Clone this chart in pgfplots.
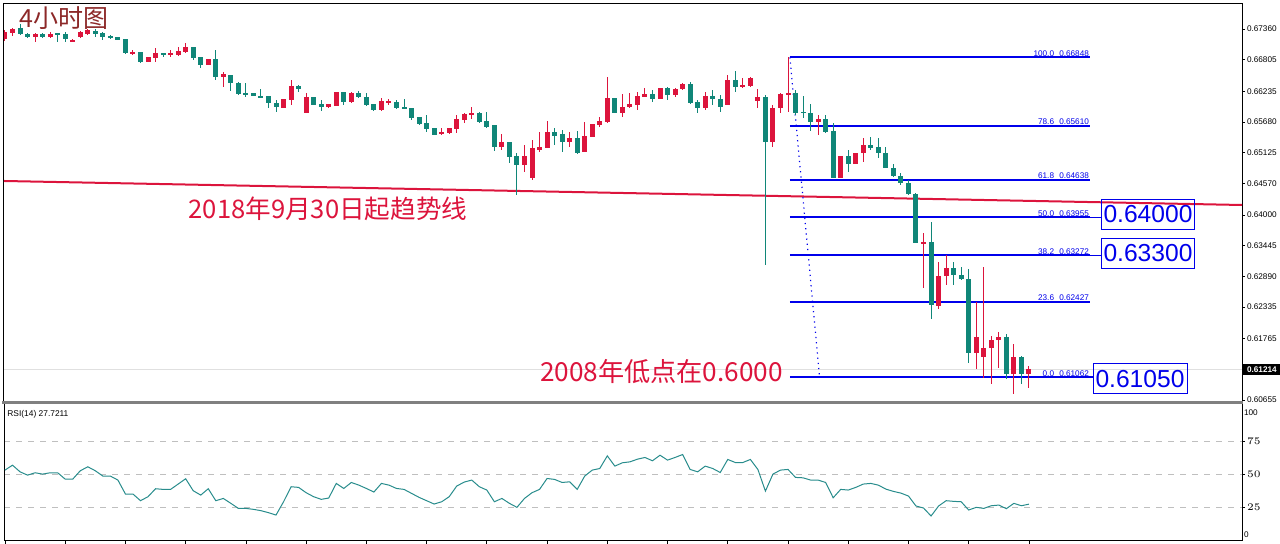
\documentclass[border=0pt]{standalone}
\usepackage{pgfplots}
\pgfplotsset{compat=1.18}
\usepackage{pgfplotstable}
\usepackage{fontspec}
\setmainfont{Liberation Sans}
\newfontfamily\cjk{Noto Sans CJK SC}
\definecolor{bull}{RGB}{220,20,60}
\definecolor{bear}{RGB}{16,134,120}
\definecolor{fibblue}{RGB}{0,0,235}
\definecolor{trend}{RGB}{220,20,60}
\definecolor{rsic}{RGB}{40,140,140}
\definecolor{titlec}{RGB}{140,40,40}

\pgfplotstableread{
x o h l c
2 .67378 .67450 .67251 .67270
3 .67270 .67288 .67197 .67215
5 .67270 .67288 .67197 .67215
7 .67288 .67288 .67125 .67270
8 .67270 .67306 .67125 .67179
12 .67324 .67360 .67215 .67270
13 .67288 .67306 .67161 .67215
14 .67233 .67251 .67179 .67197
15 .67215 .67215 .67161 .67161
16 .67179 .67179 .66908 .66926
18 .66944 .66944 .66746 .66764
21 .66926 .66926 .66854 .66890
25 .67035 .67035 .66800 .66836
26 .66854 .66854 .66655 .66710
28 .66818 .66980 .66438 .66493
30 .66529 .66529 .66240 .66384
31 .66384 .66402 .66167 .66185
32 .66203 .66384 .66131 .66185
33 .66203 .66203 .66149 .66149
34 .66149 .66276 .66131 .66131
35 .66149 .66149 .65932 .66023
36 .66023 .66077 .65860 .65950
39 .66330 .66348 .66221 .66276
41 .66131 .66131 .65987 .65987
42 .66005 .66077 .65878 .65950
45 .66221 .66221 .65987 .66041
47 .66203 .66240 .66113 .66131
48 .66131 .66203 .65969 .65987
49 .66005 .66005 .65878 .65896
52 .66041 .66077 .65914 .65932
53 .65950 .66095 .65914 .65932
54 .65932 .65932 .65715 .65752
55 .65770 .65770 .65625 .65643
56 .65661 .65806 .65499 .65553
57 .65571 .65571 .65444 .65444
63 .65842 .65860 .65661 .65679
64 .65697 .65860 .65571 .65589
65 .65625 .65625 .65155 .65227
67 .65318 .65318 .64938 .65047
68 .65065 .65119 .64360 .64902
73 .65499 .65571 .65264 .65426
74 .65462 .65535 .65137 .65318
76 .65390 .65517 .65101 .65119
81 .66113 .66113 .65842 .65842
86 .66185 .66258 .66041 .66095
88 .66294 .66312 .66077 .66167
91 .66366 .66402 .66005 .66023
92 .66041 .66077 .65842 .65932
94 .66149 .66258 .65987 .66095
95 .66095 .66167 .65860 .65950
97 .66438 .66601 .66221 .66312
101 .66131 .66167 .63095 .65318
105 .66203 .66258 .65806 .65842
106 .65860 .66149 .65752 .65842
107 .65842 .66005 .65517 .65679
109 .65734 .65806 .65481 .65499
110 .65517 .65661 .64667 .64667
112 .65065 .65173 .64776 .64920
115 .65264 .65408 .65173 .65209
116 .65227 .65390 .65029 .65119
117 .65119 .65227 .64848 .64848
118 .64848 .64920 .64685 .64703
119 .64703 .64758 .64541 .64577
120 .64577 .64631 .64360 .64378
121 .64378 .64396 .63492 .63492
123 .63510 .63872 .62119 .62372
126 .63041 .63149 .62733 .62914
127 .62914 .63059 .62824 .62842
128 .62842 .63022 .61324 .61504
133 .61794 .61848 .61035 .61125
135 .61432 .61450 .60945 .61125
}\bear

\pgfplotstableread{
x o h l c
0 .67179 .67342 .67143 .67306
1 .67288 .67378 .67233 .67360
4 .67215 .67288 .67125 .67270
6 .67215 .67306 .67197 .67270
9 .67143 .67179 .67125 .67161
10 .67215 .67324 .67197 .67306
11 .67270 .67360 .67251 .67342
17 .66926 .66980 .66890 .66944
19 .66764 .66854 .66764 .66854
20 .66836 .67017 .66764 .66926
22 .66890 .66980 .66854 .66926
23 .66890 .67035 .66872 .66962
24 .66944 .67107 .66926 .67035
27 .66710 .66818 .66710 .66818
29 .66493 .66583 .66312 .66547
37 .65932 .66095 .65932 .66095
38 .66077 .66438 .65987 .66330
40 .65842 .66203 .65842 .66131
43 .65950 .66005 .65932 .66005
44 .65969 .66221 .65969 .66221
46 .66041 .66221 .66023 .66203
50 .65896 .66113 .65878 .66059
51 .66023 .66095 .65987 .66059
58 .65462 .65571 .65444 .65499
59 .65481 .65571 .65462 .65571
60 .65553 .65806 .65481 .65734
61 .65715 .65842 .65661 .65824
62 .65806 .65950 .65734 .65842
66 .65227 .65462 .65173 .65318
69 .64902 .65264 .64776 .65065
70 .64667 .65354 .64631 .65209
71 .65173 .65499 .65137 .65227
72 .65209 .65697 .65209 .65499
75 .65318 .65499 .65227 .65390
77 .65137 .65679 .65137 .65426
78 .65408 .65643 .65408 .65643
79 .65625 .65770 .65589 .65697
80 .65679 .66493 .65661 .66113
82 .65842 .66185 .65770 .65950
83 .65950 .66203 .65932 .66005
84 .65987 .66221 .65896 .66149
85 .66131 .66294 .66131 .66185
87 .66095 .66294 .66095 .66294
89 .66167 .66294 .66131 .66276
90 .66276 .66384 .66258 .66366
93 .65932 .66221 .65896 .66149
96 .65987 .66529 .65987 .66438
98 .66312 .66475 .66294 .66348
99 .66330 .66493 .66312 .66475
100 .66059 .66276 .65932 .66131
102 .65318 .65987 .65227 .65932
103 .65932 .66203 .65842 .66185
104 .66185 .66848 .65860 .66203
108 .65679 .65806 .65444 .65734
111 .64667 .65065 .64667 .65065
113 .64920 .65119 .64920 .65119
114 .65119 .65390 .64956 .65264
122 .63492 .63673 .62679 .63510
124 .62354 .63149 .62300 .62896
125 .62896 .63276 .62733 .63041
129 .61504 .62426 .61215 .61794
130 .61432 .63059 .61062 .61595
131 .61595 .61812 .60945 .61739
132 .61739 .61884 .61233 .61794
134 .61125 .61667 .60764 .61432
136 .61125 .61269 .60872 .61214
}\bull

\pgfplotstableread{
x r
0 53.3
1 57.0
2 52.0
3 49.5
4 51.3
5 50.3
6 51.3
7 51.3
8 46.5
9 46.5
10 52.8
11 55.8
12 52.8
13 48.8
14 48.8
15 45.8
16 35.3
17 35.3
18 30.3
19 33.3
20 39.3
21 38.8
22 38.8
23 42.8
24 46.8
25 37.8
26 34.5
27 39.3
28 30.3
29 32.0
30 28.3
31 24.5
32 24.5
33 23.8
34 22.8
35 21.3
36 19.5
37 29.5
38 40.8
39 40.3
40 36.3
41 33.3
42 31.3
43 32.3
44 43.3
45 39.5
46 44.0
47 42.0
48 39.5
49 36.8
50 43.3
51 42.0
52 39.5
53 38.8
54 35.8
55 32.8
56 30.3
57 27.8
58 29.5
59 33.3
60 41.3
61 44.3
62 45.8
63 40.8
64 38.3
65 29.5
66 32.0
67 28.3
68 25.3
69 32.0
70 36.3
71 38.8
72 47.0
73 46.3
74 44.0
75 44.5
76 38.8
77 48.8
78 53.3
79 54.5
80 64.0
81 56.3
82 58.8
83 59.5
84 61.5
85 62.8
86 60.3
87 64.5
88 60.8
89 62.8
90 65.0
91 53.8
92 52.0
93 56.3
94 54.5
95 51.5
96 61.3
97 59.0
98 59.0
99 61.3
100 53.8
101 37.5
102 50.3
103 53.3
104 53.8
105 47.8
106 47.5
107 45.8
108 45.8
109 44.0
110 32.5
111 38.8
112 38.3
113 40.3
114 42.8
115 43.3
116 42.0
117 39.0
118 37.3
119 36.0
120 33.8
121 26.3
122 24.8
123 18.8
124 26.3
125 30.3
126 29.8
127 29.5
128 23.3
129 25.3
130 24.5
131 26.5
132 27.0
133 24.3
134 28.3
135 26.5
136 27.7
}\rsi

\newcommand{\candles}[2]{%
  \addplot[draw=none, mark=none, forget plot,
    error bars/.cd, y dir=both, y explicit, error mark=none,
    error bar style={draw=#2, line width=0.5pt}]
    table[x=x, y expr={(\thisrow{h}+\thisrow{l})/2}, y error expr={(\thisrow{h}-\thisrow{l})/2}] {#1};
  \addplot[draw=none, mark=none, forget plot,
    error bars/.cd, y dir=both, y explicit, error mark=none,
    error bar style={draw=#2, line width=2.5pt}]
    table[x=x, y expr={(\thisrow{o}+\thisrow{c})/2}, y error expr={abs(\thisrow{o}-\thisrow{c})/2}] {#1};
}
\newcommand{\fibsize}{\fontsize{4.1pt}{5pt}\selectfont}

\begin{document}
\begin{tikzpicture}
\useasboundingbox (0,0) rectangle (640pt,-272pt);

\begin{axis}[
  at={(2pt,-1.75pt)}, anchor=north west,
  width=619pt, height=199.25pt, scale only axis,
  xmin=-0.13, xmax=164.3, ymin=0.606188, ymax=0.678208,
  xtick=\empty,
  ytick={0.67360,0.66805,0.66235,0.65680,0.65125,0.64570,0.64000,0.63445,0.62890,0.62335,0.61765,0.60655},
  ytick pos=right, yticklabel pos=right,
  tick align=outside, major tick length=1.5pt,
  tick style={black, line width=0.4pt},
  axis line style={black, line width=0.5pt},
  yticklabel style={font=\fontsize{4.1pt}{5pt}\selectfont, anchor=west, inner sep=0.5pt, xshift=0.3pt},
  /pgf/number format/.cd, fixed, fixed zerofill, precision=5, assume math mode=true,
]
% current price line
\addplot[black!12, line width=0.5pt] coordinates {(-0.13,0.61214) (164.3,0.61214)};
% trendline since 2018
\addplot[trend, line width=1pt] coordinates {(-0.13,0.64613) (164.3,0.64179)};
% fibonacci levels
\foreach \lv/\pc in {0.66848/100.0, 0.65610/78.6, 0.64638/61.8, 0.63955/50.0, 0.63272/38.2, 0.62427/23.6, 0.61062/0.0}{
  \edef\tmp{\noexpand\addplot[fibblue, line width=1pt] coordinates {(104.25,\lv) (144.1,\lv)};
  \noexpand\node[anchor=south east, inner sep=0.3pt, text=fibblue, font=\noexpand\fibsize] at (axis cs:144.1,\lv) {\pc\noexpand\hspace{2.6pt}\lv};}
  \tmp
}
\addplot[fibblue, line width=0.4pt] coordinates {(144.1,0.63955) (145.6,0.63955)};
\addplot[fibblue, line width=0.4pt] coordinates {(144.1,0.63272) (145.6,0.63272)};
\addplot[fibblue, line width=1pt] coordinates {(144.1,0.61062) (144.6,0.61062)};
\addplot[fibblue, line width=0.6pt, dotted] coordinates {(104.25,0.66848) (108.2,0.61062)};
\candles{\bear}{bear}
\candles{\bull}{bull}
\end{axis}

\begin{axis}[
  at={(2pt,-202pt)}, anchor=north west,
  width=619pt, height=68.5pt, scale only axis,
  xmin=-0.13, xmax=164.3, ymin=0, ymax=103,
  xtick={0,8,...,136}, xticklabels={},
  xtick pos=bottom,
  ytick={25,50,75}, ytick pos=right, yticklabel pos=right,
  extra y ticks={96.8,4.5}, extra y tick labels={100,0},
  extra y tick style={major tick length=0pt, grid=none},
  ymajorgrids, grid style={black!25, dashed, line width=0.4pt},
  tick align=outside, major tick length=1.5pt,
  tick style={black, line width=0.4pt},
  axis line style={black, line width=0.5pt},
  yticklabel style={font=\fontsize{4.1pt}{5pt}\selectfont, anchor=west, inner sep=0.5pt, xshift=0.3pt},
]
\addplot[rsic, line width=0.5pt] table[x=x, y=r] {\rsi};
\end{axis}

\begin{scope}[x=0.5pt, y=-0.5pt]
\draw[black!50, line width=1.6pt] (2,402.7) -- (1242.5,402.7);
% current price label
\node[fill=black, text=white, inner sep=0pt, minimum width=18.5pt, minimum height=5.6pt, font=\fontsize{4.1pt}{5pt}\selectfont\bfseries, anchor=west] at (1243,369.5) {0.61214};
% boxes
\node[draw=fibblue, line width=0.5pt, text=fibblue, minimum width=46.3pt, minimum height=15pt, inner sep=0pt, font=\fontsize{12.3pt}{14pt}\selectfont] at (1148,214.3) {0.64000};
\node[draw=fibblue, line width=0.5pt, text=fibblue, minimum width=46.3pt, minimum height=15pt, inner sep=0pt, font=\fontsize{12.3pt}{14pt}\selectfont] at (1148,253.3) {0.63300};
\node[draw=fibblue, line width=0.5pt, text=fibblue, minimum width=47pt, minimum height=15pt, inner sep=0pt, font=\fontsize{12.3pt}{14pt}\selectfont] at (1140,379) {0.61050};
% annotations
\node[text=trend, inner sep=0pt, font=\cjk\fontsize{12.8pt}{14pt}\selectfont] at (328,209) {2018年9月30日起趋势线};
\node[text=trend, inner sep=0pt, font=\cjk\fontsize{13.1pt}{14pt}\selectfont] at (661.5,372) {2008年低点在0.6000};
\node[text=titlec, inner sep=0pt, font=\cjk\fontsize{12.5pt}{14pt}\selectfont] at (64,18) {4小时图};
\node[anchor=west, inner sep=0pt, font=\fontsize{4.2pt}{5pt}\selectfont] at (7,414.5) {RSI(14) 27.7211};
\end{scope}
\end{tikzpicture}
\end{document}
